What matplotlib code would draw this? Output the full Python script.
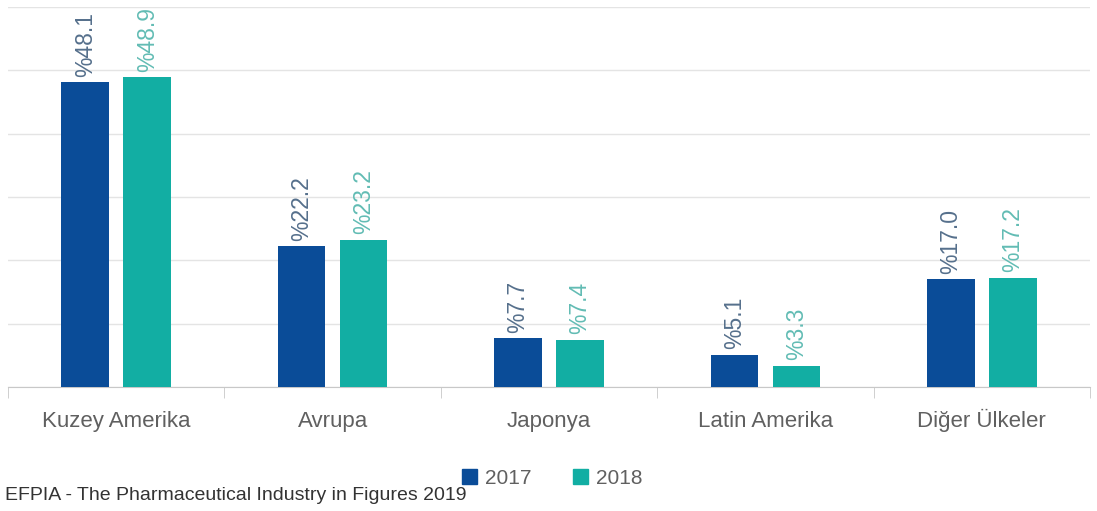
import numpy as np
import matplotlib
matplotlib.use("Agg")
import matplotlib.pyplot as plt
import matplotlib.transforms as mtransforms
from matplotlib.patches import Patch

plt.rcParams['font.family'] = ['Liberation Sans', 'DejaVu Sans']

# data
regions = ['Kuzey Amerika', 'Avrupa', 'Japonya', 'Latin Amerika', 'Diğer Ülkeler']
y2017 = [48.1, 22.2, 7.7, 5.1, 17.0]
y2018 = [48.9, 23.2, 7.4, 3.3, 17.2]
years = ['2017', '2018']

c17 = '#0a4c98'
c18 = '#12aea3'
lab17 = '#56708c'
lab18 = '#62bcb4'

fig = plt.figure(figsize=(10.97, 5.11), dpi=100)
ax = fig.add_axes([8 / 1097, 124 / 511, 1082 / 1097, 380 / 511])

x = np.arange(len(regions))
w = 0.22
off = 0.143
b1 = ax.bar(x - off, y2017, w, color=c17, zorder=3)
b2 = ax.bar(x + off, y2018, w, color=c18, zorder=3)

for bars, vals, col in [(b1, y2017, lab17), (b2, y2018, lab18)]:
    for r, v in zip(bars, vals):
        ax.text(r.get_x() + r.get_width() / 2, v + 0.9, '%{:.1f}'.format(v),
                rotation=90, ha='center', va='bottom', fontsize=16.5, color=col)

ax.set_xlim(-0.5, 4.5)
ax.set_ylim(0, 60)
ax.set_yticks(np.arange(0, 61, 10))
ax.yaxis.grid(True, color='#e4e4e4', lw=1)
ax.tick_params(axis='y', left=False, labelleft=False)
for s in ['top', 'right', 'left']:
    ax.spines[s].set_visible(False)
ax.spines['bottom'].set_color('#c8c8c8')

# category labels on a common baseline
ax.set_xticks(x)
ax.tick_params(axis='x', length=0, labelbottom=False)
trans = mtransforms.blended_transform_factory(ax.transData, ax.transAxes)
for xi, name in zip(x, regions):
    ax.text(xi, -40 / 380, name, transform=trans, ha='center', va='baseline',
            fontsize=16, color='#606060')
ax.set_xticks(np.arange(-0.5, 5, 1), minor=True)
ax.tick_params(axis='x', which='minor', length=8, color='#c8c8c8')

handles = [Patch(color=c17), Patch(color=c18)]
fig.legend(handles, years, loc='center', bbox_to_anchor=(552 / 1097, 1 - 478 / 511),
           ncol=2, frameon=False, fontsize=15, handlelength=0.75, handleheight=0.75,
           handletextpad=0.35, columnspacing=2.0, labelcolor='#606060')

fig.text(5 / 1097, 1 - 496 / 511, 'EFPIA - The Pharmaceutical Industry in Figures 2019',
         fontsize=14, color='#333333', va='center', ha='left')

fig.savefig('out.png', dpi=100)
